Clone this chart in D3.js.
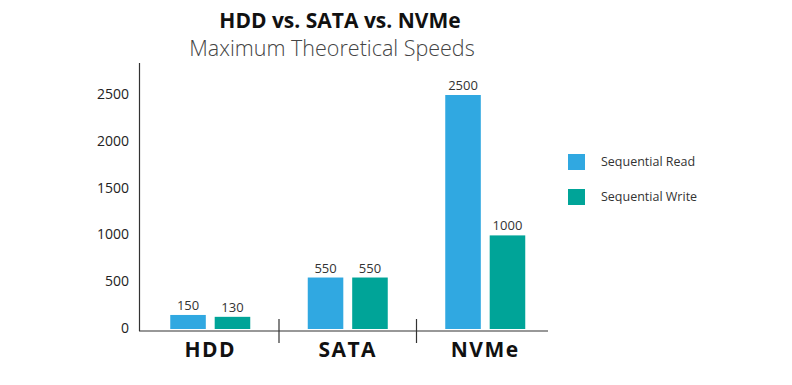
<!DOCTYPE html>
<html lang='en'>
  <meta charset='utf-8'>
  <style>
    body{ margin: 0; background: #fff; }
    svg{ display: block; font-family: 'Open Sans', 'DejaVu Sans', sans-serif; }
    .tick text{ font-family: 'Open Sans', sans-serif; font-size: 14px; fill: #222; }
    .val{ font-size: 13px; fill: #333; }
    .cat{ font-size: 21px; font-weight: 700; fill: #111; letter-spacing: 1.5px; }
    .legend text{ font-size: 12.5px; fill: #333; }
  </style>
  <body>
    <svg width='792' height='385'></svg>
    <script src='https://d3js.org/d3.v7.min.js'></script>
    <script>
      // data
      const categories = ['HDD', 'SATA', 'NVMe']
      const seriesNames = ['Sequential Read', 'Sequential Write']
      const readValues = [150, 550, 2500]
      const writeValues = [130, 550, 1000]
      const yTicks = [0, 500, 1000, 1500, 2000, 2500]
      const colors = ['#30a8e1', '#00a498']

      const svg = d3.select('svg')

      // title
      svg.append('text').attr('x', 340).attr('y', 28).attr('text-anchor', 'middle')
        .style('font-size', '21px').style('font-weight', 700).style('fill', '#111')
        .text('HDD vs. SATA vs. NVMe')
      svg.append('text').attr('x', 332).attr('y', 56).attr('text-anchor', 'middle')
        .style('font-size', '21.5px').style('font-weight', 300).style('fill', '#444')
        .text('Maximum Theoretical Speeds')

      const y = d3.scaleLinear().domain([0, 2500]).range([329, 95])
      const x0 = d3.scaleBand().domain(categories).range([141.5, 554])
      const x1 = d3.scaleBand().domain(seriesNames).range([-40, 40]).paddingInner(0.2)

      // y axis
      const yAxis = svg.append('g').attr('transform', 'translate(139,0)')
        .call(d3.axisLeft(y).tickValues(yTicks).tickSize(0).tickPadding(10).tickFormat(d3.format('d')))
      yAxis.select('.domain').remove()
      yAxis.selectAll('.tick text').attr('dy', '0.25em')
      svg.append('line').attr('x1', 139.5).attr('x2', 139.5).attr('y1', 63).attr('y2', 331)
        .attr('stroke', '#333').attr('stroke-width', 1.2)

      // x axis
      svg.append('line').attr('x1', 139).attr('x2', 548).attr('y1', 331).attr('y2', 331)
        .attr('stroke', '#333').attr('stroke-width', 1.2)
      categories.slice(1).forEach((c) => {
        svg.append('line').attr('x1', x0(c)).attr('x2', x0(c)).attr('y1', 319).attr('y2', 343)
          .attr('stroke', '#333').attr('stroke-width', 1.2)
      })
      svg.selectAll('.cat').data(categories).enter().append('text')
        .attr('class', 'cat')
        .attr('x', (d) => x0(d) + x0.bandwidth() / 2)
        .attr('y', 357)
        .attr('text-anchor', 'middle')
        .text((d) => d)

      // bars
      const rows = categories.map((c, i) => ({cat: c, vals: [readValues[i], writeValues[i]]}))
      const groups = svg.selectAll('.grp').data(rows).enter().append('g')
        .attr('transform', (d) => `translate(${x0(d.cat) + x0.bandwidth() / 2},0)`)
      groups.selectAll('rect').data((d) => d.vals.map((v, i) => ({v, s: seriesNames[i], i})))
        .enter().append('rect')
        .attr('x', (d) => x1(d.s))
        .attr('width', x1.bandwidth())
        .attr('y', (d) => y(d.v))
        .attr('height', (d) => y(0) - y(d.v))
        .attr('fill', (d) => colors[d.i])
      groups.selectAll('.val').data((d) => d.vals.map((v, i) => ({v, s: seriesNames[i]})))
        .enter().append('text')
        .attr('class', 'val')
        .attr('x', (d) => x1(d.s) + x1.bandwidth() / 2)
        .attr('y', (d) => y(d.v) - 5)
        .attr('text-anchor', 'middle')
        .text((d) => d.v)

      // legend
      const legend = svg.append('g').attr('class', 'legend')
      seriesNames.forEach((s, i) => {
        legend.append('rect').attr('x', 568).attr('y', 154 + i * 35).attr('width', 17).attr('height', 16)
          .attr('fill', colors[i])
        legend.append('text').attr('x', 601).attr('y', 166 + i * 35).text(s)
      })
    </script>
  </body>
</html>
